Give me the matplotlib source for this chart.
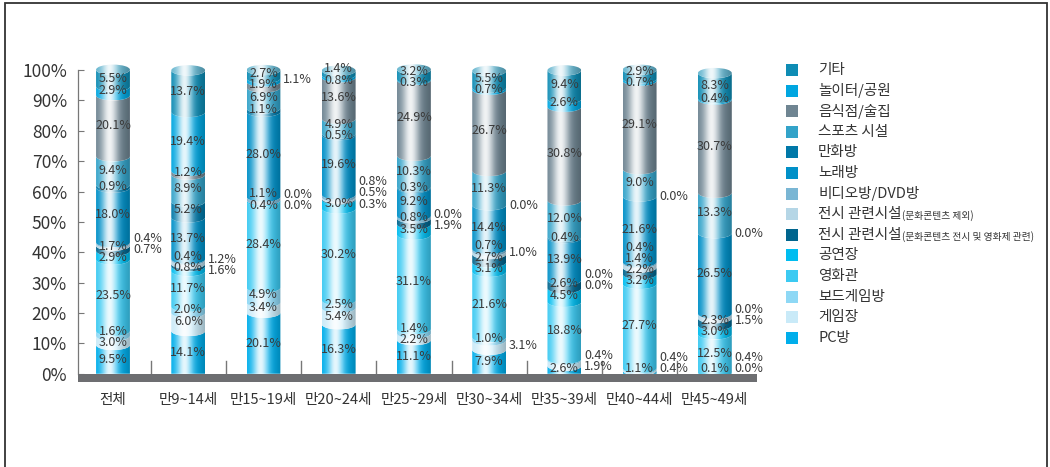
import matplotlib.pyplot as plt
import numpy as np
from matplotlib.patches import Rectangle, PathPatch, Ellipse
from matplotlib.path import Path
from matplotlib.colors import to_rgb

plt.rcParams['font.family'] = ['Liberation Sans Narrow', 'Noto Sans CJK KR', 'DejaVu Sans']

groups = ['전체', '만9~14세', '만15~19세', '만20~24세', '만25~29세',
          '만30~34세', '만35~39세', '만40~44세', '만45~49세']

# share of each place (%), one list per place, stacked bottom to top
pc_room     = [9.5, 14.1, 20.1, 16.3, 11.1, 7.9, 2.6, 1.1, 0.0]
game_room   = [3.0, 6.0, 3.4, 5.4, 2.2, 3.1, 1.9, 0.4, 0.1]
board_game  = [1.6, 2.0, 4.9, 2.5, 1.4, 1.0, 0.4, 0.4, 0.4]
cinema      = [23.5, 11.7, 28.4, 30.2, 31.1, 21.6, 18.8, 27.7, 12.5]
stage       = [2.9, 1.6, 0.4, 3.0, 3.5, 3.1, 4.5, 3.2, 3.0]
exhib_film  = [1.7, 0.8, 0.0, 0.3, 1.9, 2.7, 2.6, 2.2, 2.3]
exhib_other = [0.7, 1.2, 0.0, 0.5, 0.0, 1.0, 0.0, 1.4, 1.5]
video_room  = [0.4, 0.4, 1.1, 0.8, 0.8, 0.7, 0.0, 0.4, 0.0]
karaoke     = [18.0, 13.7, 28.0, 19.6, 9.2, 14.4, 13.9, 21.6, 26.5]
comic_cafe  = [0.9, 5.2, 1.1, 0.5, 0.3, 0.0, 0.4, 0.0, 0.0]
sports      = [9.4, 8.9, 6.9, 4.9, 10.3, 11.3, 12.0, 9.0, 13.3]
dining      = [20.1, 1.2, 1.9, 13.6, 24.9, 26.7, 30.8, 29.1, 30.7]
park        = [2.9, 19.4, 1.1, 0.8, 0.3, 0.7, 2.6, 0.7, 0.4]
other       = [5.5, 13.7, 2.7, 1.4, 3.2, 5.5, 9.4, 2.9, 8.3]

series = [pc_room, game_room, board_game, cinema, stage, exhib_film, exhib_other,
          video_room, karaoke, comic_cafe, sports, dining, park, other]
colors = ['#00aeeb', '#c9eaf8', '#8ed8f5', '#3ccaf2', '#00bdf0', '#00658e', '#b5d6e6',
          '#7ab6d4', '#0090c8', '#0078a8', '#33a3c9', '#6f8592', '#00a6e0', '#0e8cb4']

# legend, top to bottom
legend_names = ['기타', '놀이터/공원', '음식점/술집', '스포츠 시설', '만화방', '노래방',
                '비디오방/DVD방', '전시 관련시설', '전시 관련시설', '공연장', '영화관',
                '보드게임방', '게임장', 'PC방']
legend_notes = ['', '', '', '', '', '', '', '(문화콘텐츠 제외)',
                '(문화콘텐츠 전시 및 영화제 관련)', '', '', '', '', '']

# segments whose value is written beside the bar instead of inside
side_labels = {0: [6, 7], 1: [4, 6], 2: [5, 6, 12], 3: [5, 6, 7], 4: [5, 6],
               5: [1, 6, 9], 6: [1, 2, 6, 7], 7: [1, 2, 9], 8: [0, 2, 6, 7, 9]}

W, H = 1050, 467
fig = plt.figure(figsize=(W / 100, H / 100), dpi=100)
ax = fig.add_axes([78 / W, 1 - 381.5 / H, 679 / W, (381.5 - 57.9) / H])
ax.set_xlim(-0.465, 8.56)
ax.set_ylim(-2.55, 104)

bw = 0.45          # bar width
eh = 3.4           # ellipse height in % units
a, b = bw / 2, eh / 2


def shade(color, lift=0.0, n=80):
    t = np.linspace(0, 1, n)
    base = np.array(to_rgb(color))
    base = base * (1 - lift) + lift
    w = 0.9 * np.exp(-((t - 0.4) / 0.24) ** 2)
    dark = 1 - 0.22 * np.clip((t - 0.6) / 0.4, 0, 1)
    rgb = (base[None, :] * (1 - w[:, None]) + w[:, None]) * dark[:, None]
    return rgb[None, :, :]


def lower_arc(xc, y, reverse=False):
    th = np.linspace(np.pi, 2 * np.pi, 30)
    pts = np.column_stack([xc + a * np.cos(th), y + b * np.sin(th)])
    return pts[::-1] if reverse else pts


def spread(ys, gap, lo):
    ys = list(ys)
    for _ in range(60):
        for i in range(1, len(ys)):
            d = ys[i] - ys[i - 1]
            if d < gap:
                s = (gap - d) / 2
                ys[i] += s
                ys[i - 1] -= s
        if ys and ys[0] < lo:
            ys[0] = lo
        for i in range(1, len(ys)):
            ys[i] = max(ys[i], ys[i - 1] + gap * 0.98)
    return ys


for g in range(len(groups)):
    xc = g
    vals = [s[g] for s in series]
    bottoms = np.concatenate([[0], np.cumsum(vals)[:-1]])
    top = sum(vals)
    for k, v in enumerate(vals):
        if v <= 0:
            continue
        y0, y1 = bottoms[k], bottoms[k] + v
        if k == 0:
            bot = np.array([[xc - a, y0], [xc + a, y0]])
        else:
            bot = lower_arc(xc, y0)
        pts = np.vstack([bot, lower_arc(xc, y1, reverse=True), bot[:1]])
        patch = PathPatch(Path(pts), transform=ax.transData, fc='none', ec='none')
        ax.add_patch(patch)
        im = ax.imshow(shade(colors[k]), extent=[xc - a, xc + a, y0 - b, y1],
                       aspect='auto', interpolation='bilinear', zorder=2)
        im.set_clip_path(patch)
    # top cap
    top_k = max(k for k, v in enumerate(vals) if v > 0)
    cap = Ellipse((xc, top), bw, eh, transform=ax.transData, fc='none', ec='none')
    ax.add_patch(cap)
    im = ax.imshow(shade(colors[top_k], lift=0.35), extent=[xc - a, xc + a, top - b, top + b],
                   aspect='auto', interpolation='bilinear', zorder=3)
    im.set_clip_path(cap)

    # value labels
    centers = bottoms + np.array(vals) / 2
    side = side_labels.get(g, [])
    inner = [k for k in range(len(vals)) if k not in side]
    for ks, xpos, ha in ((inner, xc, 'center'), (side, xc + a + 0.04, 'left')):
        ks = sorted(ks, key=lambda k: centers[k])
        ys = spread([centers[k] for k in ks], 3.7, 1.7)
        for k, y in zip(ks, ys):
            ax.text(xpos, y, f'{vals[k]:.1f}%', ha=ha, va='center', fontsize=9,
                    color='#3a3a3a', zorder=5)

# base band and group separators
ax.add_patch(Rectangle((-0.465, -2.55), 9.03, 2.55, fc='#6d6e71', ec='none', zorder=6))
for i in range(len(groups) - 1):
    ax.plot([i + 0.5, i + 0.5], [0, 4.3], color='#777777', lw=1, zorder=1)

for s in ['top', 'right', 'bottom']:
    ax.spines[s].set_visible(False)
ax.spines['left'].set_bounds(0, 100)
ax.spines['left'].set_color('#777777')
ax.spines['left'].set_linewidth(0.9)
ax.set_yticks(range(0, 101, 10), [f'{v}%' for v in range(0, 101, 10)])
ax.tick_params(axis='y', direction='in', length=4, color='#777777', labelsize=12.5,
               labelcolor='#333333', pad=8)
ax.set_xticks(range(len(groups)), groups)
ax.tick_params(axis='x', length=0, labelsize=10.5, labelcolor='#333333', pad=8)

# legend
for i, (name, note) in enumerate(zip(legend_names, legend_notes)):
    yc = 70 + 20.6 * i
    fig.add_artist(Rectangle((786 / W, 1 - (yc + 6) / H), 12 / W, 12 / H,
                             transform=fig.transFigure, fc=colors[::-1][i], ec='none'))
    t = fig.text(818 / W, 1 - yc / H, name, ha='left', va='center', fontsize=10.5,
                 color='#333333', family=['Noto Sans CJK KR', 'DejaVu Sans'])
    if note:
        ax.annotate(note, xy=(1, 0), xycoords=t, ha='left', va='bottom', fontsize=7,
                    color='#333333', family=['Noto Sans CJK KR', 'DejaVu Sans'])

# outer frame
fig.add_artist(Rectangle((5 / W, -0.05), 1042 / W, 1.05 - 3 / H, transform=fig.transFigure,
                         fill=False, ec='#333333', lw=1.3))

fig.savefig('out.png', dpi=100)
